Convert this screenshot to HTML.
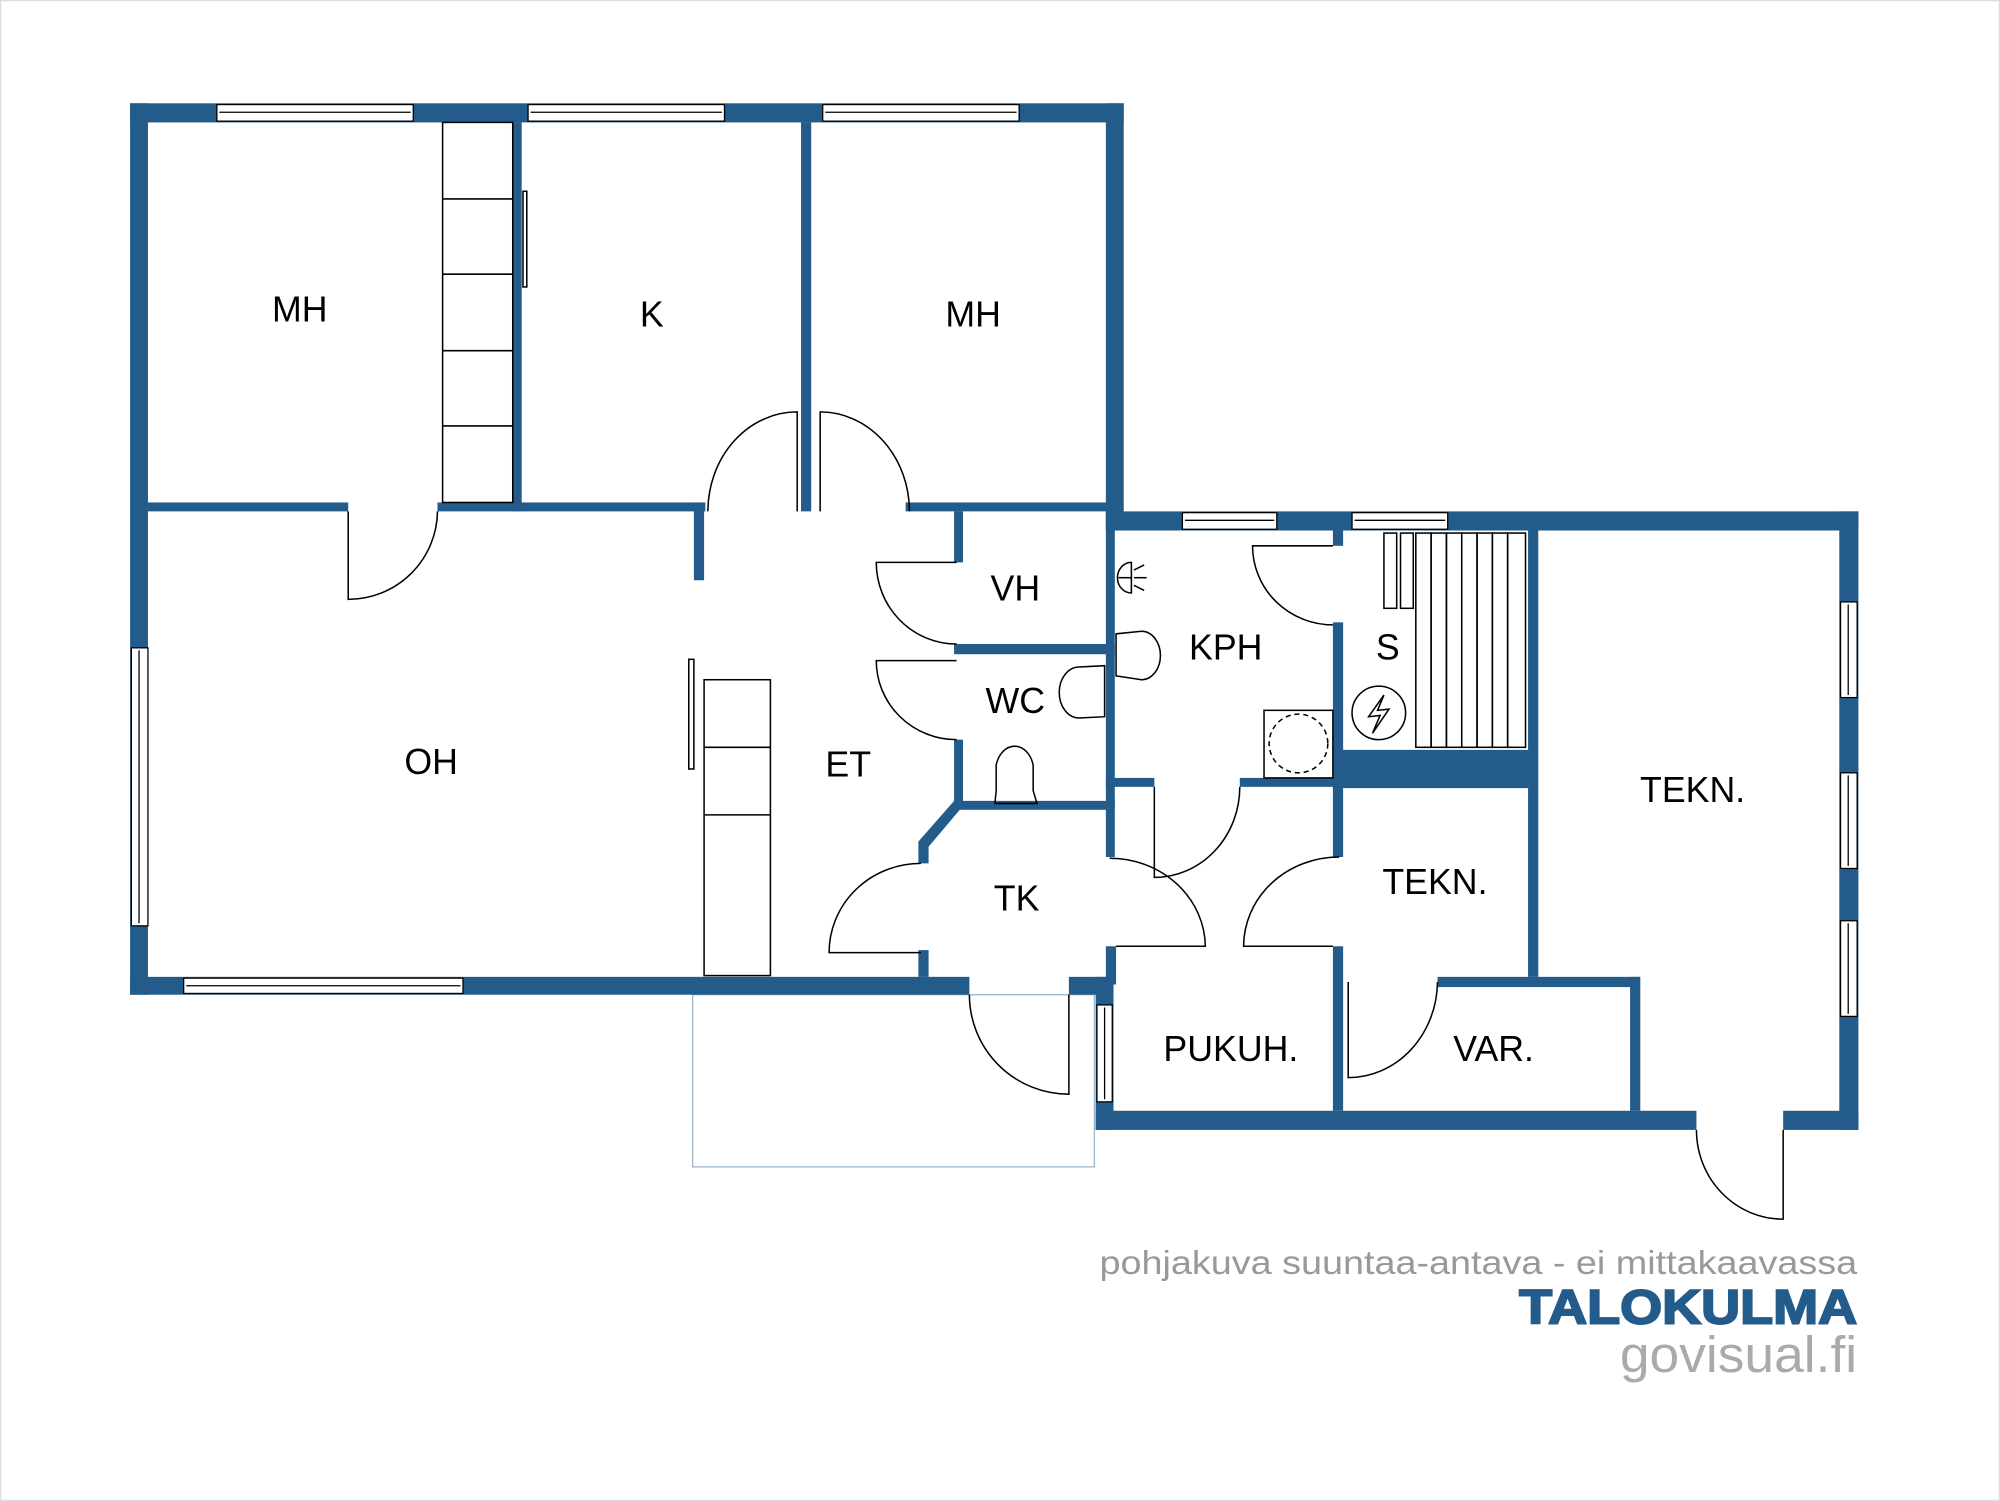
<!DOCTYPE html>
<html><head><meta charset="utf-8"><style>
html,body{margin:0;padding:0;background:#fff}
svg{display:block}
text{font-family:"Liberation Sans",Arial,sans-serif}
</style></head><body>
<svg width="2000" height="1501" viewBox="0 0 1568 1177" preserveAspectRatio="none" xmlns="http://www.w3.org/2000/svg">
<rect x="0.5" y="0.5" width="1567" height="1176" fill="#fff" stroke="#ddd"/>
<rect x="543" y="780" width="315" height="135" fill="none" stroke="#9bb4cc" stroke-width="1"/>
<g fill="#235b8a">
<rect x="102" y="81" width="779" height="15"/>
<rect x="102" y="81" width="14" height="699"/>
<rect x="102" y="766" width="658" height="14"/>
<rect x="838" y="766" width="35" height="14"/>
<rect x="867" y="81" width="14" height="335"/>
<rect x="867" y="401" width="590" height="15"/>
<rect x="1442" y="401" width="15" height="485"/>
<rect x="859" y="871" width="471" height="15"/>
<rect x="1398" y="871" width="59" height="15"/>
<rect x="859" y="766" width="14" height="120"/>
<rect x="116" y="394" width="157" height="7"/>
<rect x="343" y="394" width="210" height="7"/>
<rect x="544" y="394" width="8" height="61"/>
<rect x="402" y="96" width="7" height="305"/>
<rect x="628" y="96" width="8" height="305"/>
<rect x="710" y="394" width="164" height="7"/>
<rect x="748" y="401" width="7" height="40"/>
<rect x="748" y="505" width="126" height="8"/>
<rect x="748" y="580" width="7" height="52"/>
<rect x="748" y="628" width="126" height="7"/>
<polygon points="748,628 755,632 728,664 728,677 720,677 720,660"/>
<rect x="720" y="745" width="8" height="21"/>
<rect x="867" y="401" width="7" height="271"/>
<rect x="867" y="610" width="38" height="7"/>
<rect x="972" y="610" width="81" height="7"/>
<rect x="1045" y="416" width="8" height="12"/>
<rect x="1045" y="488" width="8" height="130"/>
<rect x="1045" y="588" width="158" height="30"/>
<rect x="1198" y="416" width="8" height="350"/>
<rect x="1045" y="610" width="158" height="7"/>
<rect x="1045" y="617" width="8" height="55"/>
<rect x="1045" y="742" width="8" height="129"/>
<rect x="867" y="742" width="8" height="30"/>
<rect x="1127" y="766" width="158" height="8"/>
<rect x="1278" y="766" width="8" height="105"/>
</g>
<g fill="#fff" stroke="#000" stroke-width="1">
<rect x="170" y="82" width="154" height="13"/><line x1="172" y1="88" x2="322" y2="88"/>
<rect x="414" y="82" width="154" height="13"/><line x1="416" y1="88" x2="566" y2="88"/>
<rect x="645" y="82" width="154" height="13"/><line x1="647" y1="88" x2="797" y2="88"/>
<rect x="103" y="508" width="13" height="218"/><line x1="109" y1="510" x2="109" y2="724"/>
<rect x="144" y="767" width="219" height="12"/><line x1="146" y1="773" x2="361" y2="773"/>
<rect x="927" y="402" width="74" height="13"/><line x1="929" y1="408" x2="999" y2="408"/>
<rect x="1060" y="402" width="75" height="13"/><line x1="1062" y1="408" x2="1133" y2="408"/>
<rect x="1443" y="472" width="13" height="75"/><line x1="1449" y1="474" x2="1449" y2="545"/>
<rect x="1443" y="606" width="13" height="75"/><line x1="1449" y1="608" x2="1449" y2="679"/>
<rect x="1443" y="722" width="13" height="75"/><line x1="1449" y1="724" x2="1449" y2="795"/>
<rect x="860" y="788" width="12" height="76"/><line x1="866" y1="790" x2="866" y2="862"/>
</g>
<g fill="none" stroke="#000" stroke-width="1.2">
<rect x="347" y="96" width="55" height="298"/>
<line x1="347" y1="156" x2="402" y2="156"/><line x1="347" y1="215" x2="402" y2="215"/>
<line x1="347" y1="275" x2="402" y2="275"/><line x1="347" y1="334" x2="402" y2="334"/>
<rect x="552" y="533" width="52" height="232"/>
<line x1="552" y1="586" x2="604" y2="586"/><line x1="552" y1="639" x2="604" y2="639"/>
<rect x="540" y="517" width="4" height="86"/>
<rect x="410" y="150" width="3" height="75"/>
<rect x="1085" y="418" width="10" height="59"/><rect x="1098" y="418" width="10" height="59"/>
<rect x="1110" y="418" width="12" height="168"/><rect x="1122" y="418" width="12" height="168"/>
<rect x="1134" y="418" width="12" height="168"/><rect x="1146" y="418" width="12" height="168"/>
<rect x="1158" y="418" width="12" height="168"/><rect x="1170" y="418" width="12" height="168"/>
<rect x="1182" y="418" width="14" height="168"/>
<circle cx="1081" cy="559" r="21"/>
<path d="M1085,545 L1073,562 L1082,561 L1076,575 L1089,556 L1080,557 Z"/>
<rect x="991" y="557" width="54" height="53"/>
<circle cx="1018" cy="583" r="23" stroke-dasharray="4,3"/>
<path d="M887,441 A10,11 0 0,0 887,465 Z"/><line x1="877" y1="453" x2="887" y2="453"/>
<line x1="889" y1="447" x2="897" y2="443"/><line x1="889" y1="453" x2="899" y2="453"/><line x1="889" y1="459" x2="897" y2="463"/>
<path d="M875,497 L895,495 A14,18 0 0,1 895,533 L875,530 Z"/>
<path d="M866,522 L846,523 A14,18 0 0,0 846,563 L866,562 Z"/>
<path d="M781,620 L781,600 A15,20 0 0,1 810,600 L810,620 L813,630 L780,630 Z"/>
<path d="M273,401 L273,470 A70,70 0 0,0 343,401"/>
<path d="M555,401 A70,78 0 0,1 625,323 L625,401"/>
<path d="M643,401 L643,323 A70,78 0 0,1 713,401"/>
<path d="M750,441 L687,441 A63,64 0 0,0 750,505"/>
<path d="M750,518 L687,518 A63,62 0 0,0 750,580"/>
<path d="M722,677 A72,70 0 0,0 650,747 L722,747"/>
<path d="M870,673 A75,70 0 0,1 945,742 L875,742"/>
<path d="M905,617 L905,688 A67,71 0 0,0 972,617"/>
<path d="M760,780 A78,78 0 0,0 838,858 L838,780"/>
<path d="M1045,428 L982,428 A63,62 0 0,0 1045,490"/>
<path d="M1050,672 A75,70 0 0,0 975,742 L1045,742"/>
<path d="M1057,770 L1057,845 A70,76 0 0,0 1127,770"/>
<path d="M1330,886 A68,70 0 0,0 1398,956 L1398,886"/>
</g>
<g font-size="28" fill="#000" text-anchor="middle">
<text x="235" y="252">MH</text>
<text x="511" y="256">K</text>
<text x="763" y="256">MH</text>
<text x="338" y="607">OH</text>
<text x="665" y="609">ET</text>
<text x="796" y="471">VH</text>
<text x="796" y="559">WC</text>
<text x="961" y="517">KPH</text>
<text x="1088" y="517">S</text>
<text x="797" y="714">TK</text>
<text x="1327" y="629">TEKN.</text>
<text x="1125" y="701">TEKN.</text>
<text x="965" y="832">PUKUH.</text>
<text x="1171" y="832">VAR.</text>
</g>
<text x="862" y="999" font-size="26" fill="#999" textLength="594" lengthAdjust="spacingAndGlyphs">pohjakuva suuntaa-antava - ei mittakaavassa</text>
<text x="1191" y="1038" font-size="38" font-weight="bold" fill="#235b8a" stroke="#235b8a" stroke-width="1.5" textLength="265" lengthAdjust="spacingAndGlyphs">TALOKULMA</text>
<text x="1270" y="1076" font-size="40" fill="#aaa" textLength="186" lengthAdjust="spacingAndGlyphs">govisual.fi</text>
</svg>
</body></html>
